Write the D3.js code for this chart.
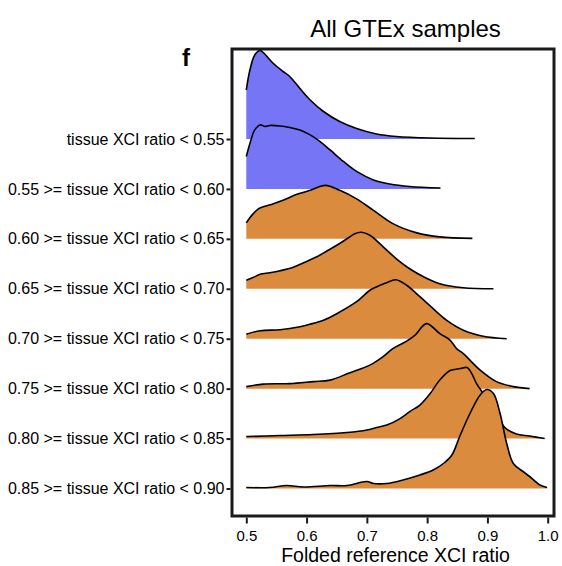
<!DOCTYPE html>
<html><head><meta charset="utf-8">
<script src="https://cdn.jsdelivr.net/npm/d3@7"></script>
<style>
body{margin:0;background:#fff}
text{font-family:"Liberation Sans",Arial,Helvetica,sans-serif;fill:#000}
</style>
</head><body>
<svg id="c" width="562" height="566"></svg>
<script>
// ---- data ----
const categories = [
  "tissue XCI ratio < 0.55",
  "0.55 >= tissue XCI ratio < 0.60",
  "0.60 >= tissue XCI ratio < 0.65",
  "0.65 >= tissue XCI ratio < 0.70",
  "0.70 >= tissue XCI ratio < 0.75",
  "0.75 >= tissue XCI ratio < 0.80",
  "0.80 >= tissue XCI ratio < 0.85",
  "0.85 >= tissue XCI ratio < 0.90"
];
const groups = ["low","low","high","high","high","high","high","high"];
const xTicks = [0.5, 0.6, 0.7, 0.8, 0.9, 1.0];
const xTickLabels = ["0.5","0.6","0.7","0.8","0.9","1.0"];

const r1x = [0.500,0.506,0.514,0.523,0.528,0.545,0.561,0.572,0.589,0.606,0.628,0.655,0.683,0.716,0.749,0.805,0.879];
const r1d = [0.98,1.38,1.68,1.77,1.73,1.51,1.35,1.25,1.01,0.78,0.55,0.35,0.21,0.10,0.05,0.02,0.01];

const r2x = [0.500,0.506,0.514,0.523,0.531,0.539,0.556,0.572,0.589,0.606,0.622,0.639,0.661,0.683,0.711,0.738,0.771,0.822];
const r2d = [0.65,0.91,1.18,1.28,1.25,1.27,1.26,1.23,1.18,1.08,0.95,0.78,0.55,0.35,0.18,0.10,0.05,0.02];

const r3x = [0.500,0.509,0.520,0.528,0.545,0.561,0.584,0.606,0.631,0.655,0.683,0.711,0.744,0.783,0.821,0.875];
const r3d = [0.32,0.47,0.60,0.64,0.70,0.77,0.89,0.97,1.07,0.97,0.80,0.57,0.30,0.12,0.04,0.01];

const r4x = [0.500,0.512,0.523,0.539,0.556,0.578,0.595,0.617,0.633,0.650,0.667,0.680,0.691,0.705,0.727,0.749,0.771,0.794,0.821,0.860,0.910];
const r4d = [0.17,0.23,0.29,0.32,0.36,0.43,0.52,0.64,0.75,0.87,1.00,1.10,1.13,1.07,0.84,0.60,0.40,0.24,0.10,0.02,0.00];

const r5x = [0.500,0.523,0.556,0.589,0.606,0.628,0.650,0.683,0.705,0.722,0.733,0.748,0.766,0.788,0.810,0.832,0.860,0.893,0.932];
const r5d = [0.09,0.16,0.18,0.24,0.29,0.37,0.50,0.74,0.97,1.07,1.12,1.18,1.07,0.84,0.60,0.37,0.17,0.05,0.00];

const r6x = [0.500,0.528,0.572,0.611,0.639,0.672,0.705,0.727,0.743,0.766,0.780,0.799,0.821,0.838,0.849,0.860,0.888,0.915,0.943,0.970];
const r6d = [0.04,0.09,0.10,0.14,0.17,0.32,0.47,0.64,0.80,0.95,1.07,1.30,1.10,0.97,0.80,0.70,0.37,0.14,0.04,0.00];

const r7x = [0.500,0.556,0.611,0.667,0.700,0.716,0.733,0.755,0.771,0.788,0.805,0.821,0.838,0.855,0.866,0.874,0.882,0.893,0.915,0.929,0.948,0.970,0.995];
const r7d = [0.04,0.06,0.08,0.12,0.17,0.22,0.27,0.40,0.54,0.67,0.90,1.17,1.36,1.40,1.42,1.30,1.10,0.90,0.50,0.22,0.09,0.05,0.00];

const r8x = [0.500,0.539,0.567,0.595,0.639,0.667,0.700,0.711,0.733,0.760,0.788,0.810,0.827,0.841,0.854,0.871,0.888,0.899,0.910,0.921,0.932,0.943,0.959,0.970,0.987,0.999];
const r8d = [0.02,0.02,0.06,0.03,0.06,0.06,0.14,0.10,0.10,0.17,0.27,0.37,0.50,0.67,1.04,1.50,1.87,1.98,1.90,1.50,0.90,0.50,0.34,0.24,0.07,0.02];

const rowX = [r1x,r2x,r3x,r4x,r5x,r6x,r7x,r8x];
const rowD = [r1d,r2d,r3d,r4d,r5d,r6d,r7d,r8d];

// ---- chart ----
const svg = d3.select("#c");
const panel = {left:232, right:554, top:49, bottom:516};

const x = d3.scaleLinear().domain([0.5, 1.0]).range([246.3, 547.7]);
const y = d3.scalePoint().domain(categories).range([139, 488.5]);
const h = d3.scaleLinear().domain([0, 1]).range([0, 50]);
const color = d3.scaleOrdinal().domain(["low","high"]).range(["#7575F5","#DB8B3E"]);

const curve = d3.curveCatmullRom.alpha(0.5);

categories.forEach((cat, i) => {
  const pts = rowX[i].map((v, j) => ({x: v, d: rowD[i][j]}));
  const base = y(cat);
  const area = d3.area().curve(curve)
    .x(p => x(p.x)).y0(base).y1(p => base - h(p.d));
  const line = d3.line().curve(curve)
    .x(p => x(p.x)).y(p => base - h(p.d));
  svg.append("path").attr("d", area(pts))
    .attr("fill", color(groups[i])).attr("stroke", "none");
  svg.append("path").attr("d", line(pts))
    .attr("fill", "none").attr("stroke", "#000").attr("stroke-width", 1.6)
    .attr("stroke-linejoin", "round");
});

// panel border
svg.append("rect")
  .attr("x", panel.left).attr("y", panel.top)
  .attr("width", panel.right - panel.left).attr("height", panel.bottom - panel.top)
  .attr("fill", "none").attr("stroke", "#1a1a1a").attr("stroke-width", 3);

// y axis
const yAxis = d3.axisLeft(y).tickSize(4).tickPadding(2);
const gy = svg.append("g").attr("transform", `translate(${panel.left - 1.5},0)`).call(yAxis);
gy.select(".domain").remove();
gy.selectAll(".tick line").attr("stroke", "#1a1a1a").attr("stroke-width", 2);
gy.selectAll(".tick text").attr("font-size", 16).attr("fill", "#000")
  .attr("font-family", '"Liberation Sans",Arial,Helvetica,sans-serif');

// x axis
const xAxis = d3.axisBottom(x).tickValues(xTicks).tickFormat((d, i) => xTickLabels[i]).tickSize(6).tickPadding(7);
const gx = svg.append("g").attr("transform", `translate(0,${panel.bottom + 1.5})`).call(xAxis);
gx.select(".domain").remove();
gx.selectAll(".tick line").attr("stroke", "#1a1a1a").attr("stroke-width", 2);
gx.selectAll(".tick text").attr("font-size", 15).attr("fill", "#000")
  .attr("font-family", '"Liberation Sans",Arial,Helvetica,sans-serif');

// titles
svg.append("text").attr("x", 405.5).attr("y", 36.5).attr("text-anchor", "middle")
  .attr("font-size", 24).text("All GTEx samples");
svg.append("text").attr("x", 395.5).attr("y", 562).attr("text-anchor", "middle")
  .attr("font-size", 19.5).text("Folded reference XCI ratio");
svg.append("text").attr("x", 186).attr("y", 66).attr("text-anchor", "middle")
  .attr("font-size", 24).attr("font-weight", "bold").text("f");
</script>
</body></html>
